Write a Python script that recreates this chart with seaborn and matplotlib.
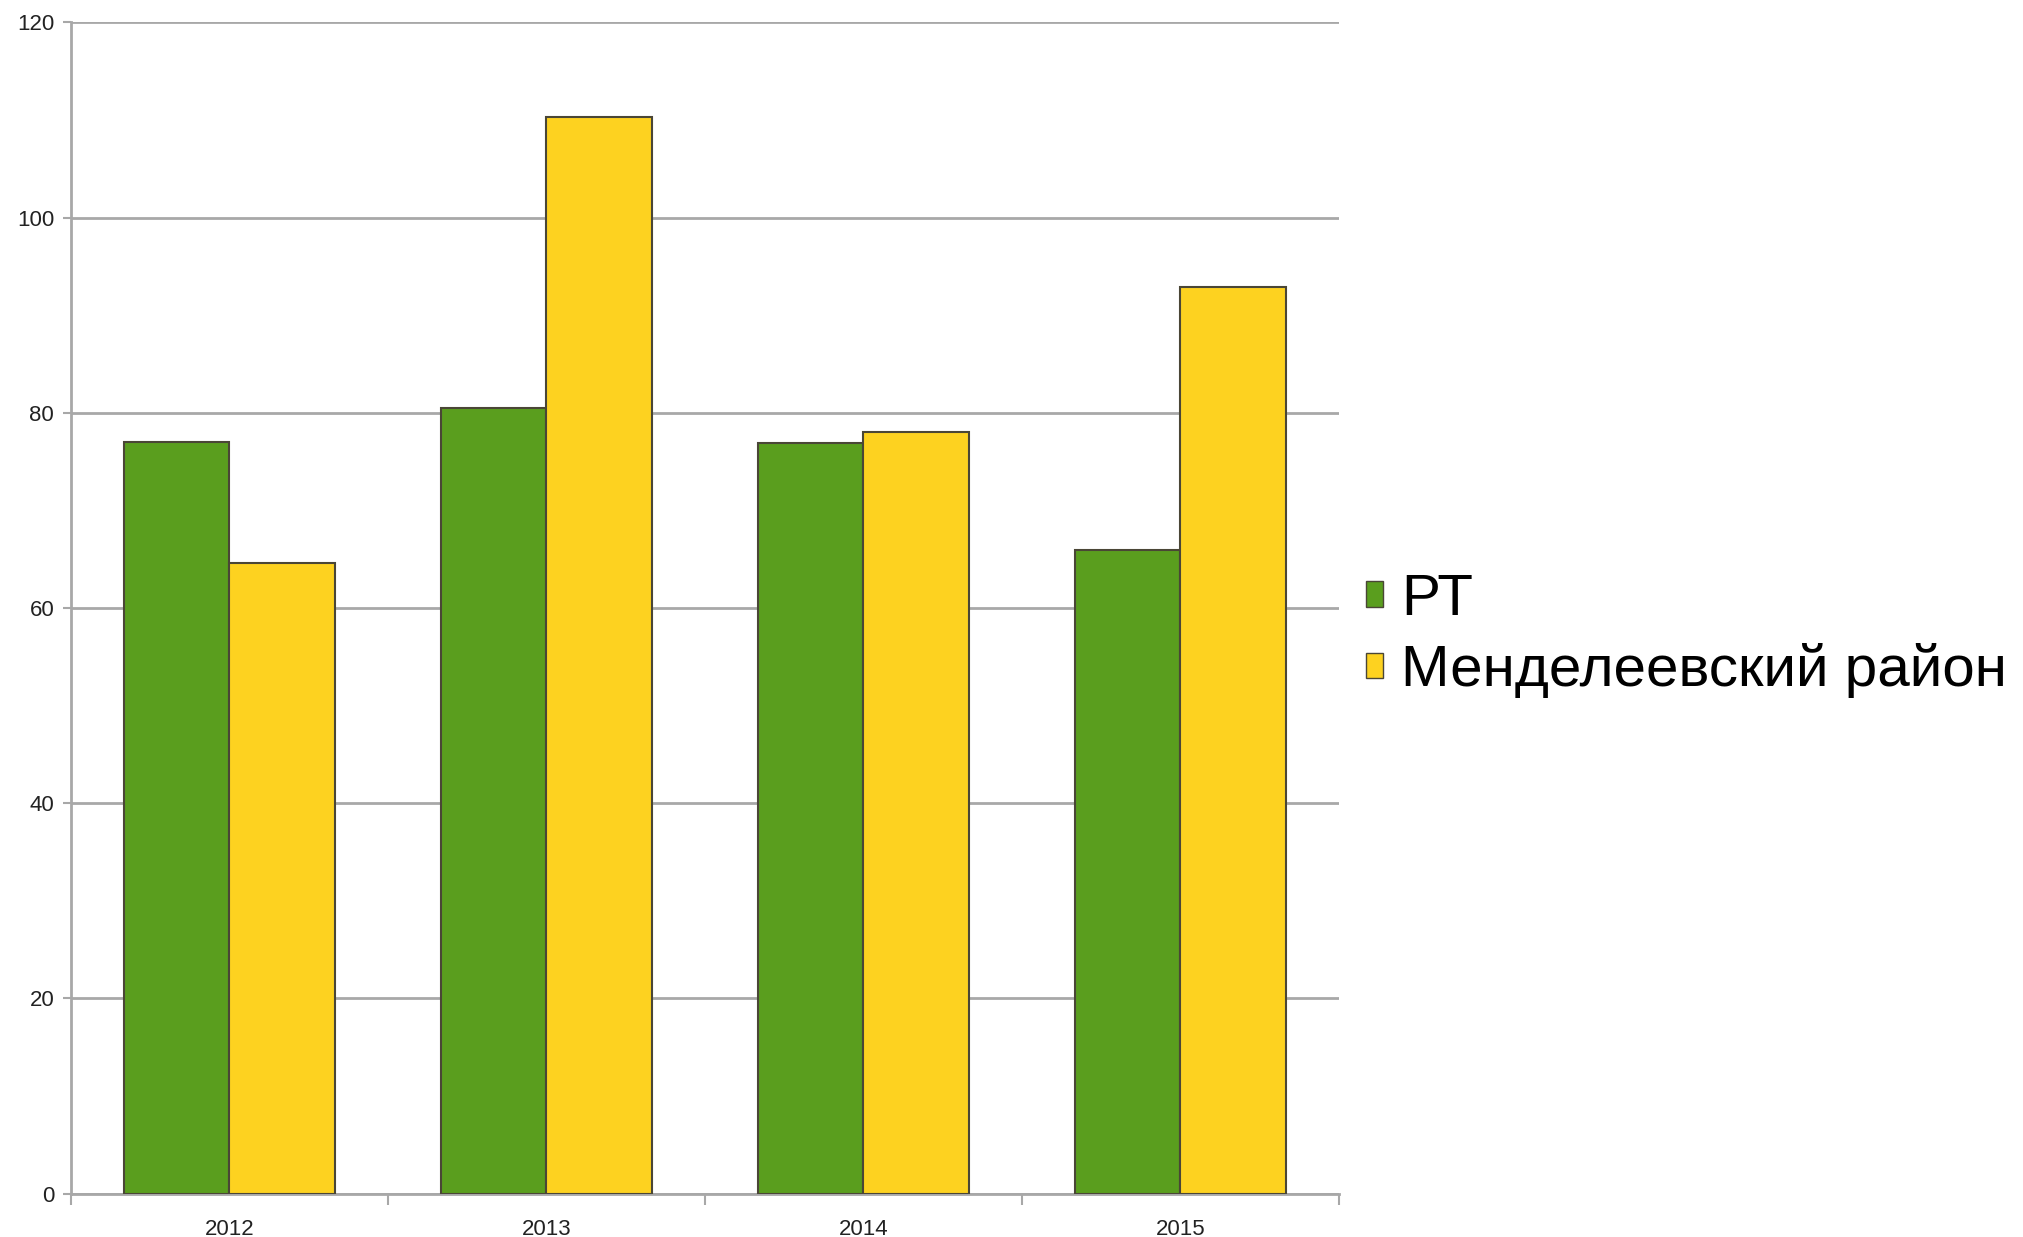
import pandas as pd
import matplotlib.pyplot as plt
import seaborn as sns
from matplotlib.patches import Patch

years = ["2012", "2013", "2014", "2015"]
rt = [77.0, 80.5, 76.9, 65.9]
mend = [64.6, 110.3, 78.0, 92.9]
series = ["РТ", "Менделеевский район"]
colors = ["#5a9e1e", "#fdd220"]

df = pd.DataFrame({
    "year": years * 2,
    "value": rt + mend,
    "series": [series[0]] * 4 + [series[1]] * 4,
})

sns.set_style("white")
plt.rcParams['font.family'] = ['Liberation Sans', 'DejaVu Sans']
plt.rcParams['text.color'] = 'black'

fig = plt.figure(figsize=(20.24, 12.37), dpi=100)
ax = fig.add_axes([0.035, 0.035, 0.6265, 0.947])

sns.barplot(data=df, x="year", y="value", hue="series", palette=colors,
            width=0.664, edgecolor="#4a4636", linewidth=1.5, saturation=1,
            legend=False, ax=ax, zorder=3)

ax.set_ylim(0, 120)
ax.set_xlim(-0.5, 3.5)
ax.set_yticks(range(0, 121, 20))
ax.yaxis.grid(True, color="#a8a8a8", linewidth=2, zorder=0)
ax.set_axisbelow(True)
ax.set_xlabel("")
ax.set_ylabel("")

for s in ["top", "right"]:
    ax.spines[s].set_visible(False)
for s in ["left", "bottom"]:
    ax.spines[s].set_color("#a8a8a8")
    ax.spines[s].set_linewidth(2)

ax.tick_params(axis="y", length=6, width=1.5, color="#a8a8a8", labelsize=16,
               labelcolor="#222222", pad=6, left=True)
ax.tick_params(axis="x", which="major", length=0, labelsize=16,
               labelcolor="#222222", pad=18)
ax.set_xticks([-0.5, 0.5, 1.5, 2.5, 3.5], minor=True)
ax.tick_params(axis="x", which="minor", length=8, width=1.5, color="#a8a8a8", bottom=True)

handles = [Patch(facecolor=c, edgecolor="#4a4636", linewidth=1) for c in colors]
ax.legend(handles, series, loc="center left", bbox_to_anchor=(1366 / 2024, 0.486),
          bbox_transform=fig.transFigure, frameon=False, fontsize=42,
          handlelength=0.3, handleheight=0.3, handletextpad=0.3,
          labelspacing=0.28, borderpad=0, borderaxespad=0)

fig.savefig("out.png", dpi=100)
